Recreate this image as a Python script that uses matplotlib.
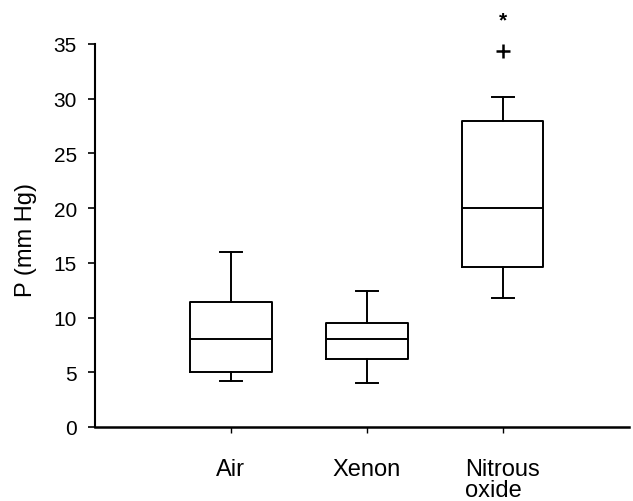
import matplotlib
matplotlib.use("Agg")
import matplotlib.pyplot as plt

plt.rcParams['font.family'] = ['Liberation Sans', 'DejaVu Sans']

categories = ["Air", "Xenon", "Nitrous\noxide"]
whisker_low = [4.2, 4.0, 11.8]
q1 = [5.0, 6.2, 14.65]
median = [8.0, 8.0, 20.0]
q3 = [11.45, 9.5, 28.0]
whisker_high = [16.0, 12.4, 30.2]
outliers = [[], [], [34.4]]
star_value = 37.2
yticks = [0, 5, 10, 15, 20, 25, 30, 35]

fig = plt.figure(figsize=(6.33, 5.02), dpi=100)
ax = fig.add_axes([95/633, 1-428/502, (629-95)/633, (428-45)/502])

stats = []
for i, c in enumerate(categories):
    stats.append(dict(label=c, whislo=whisker_low[i], q1=q1[i], med=median[i],
                      q3=q3[i], whishi=whisker_high[i], fliers=outliers[i]))

positions = [1, 2, 3]
ax.bxp(stats, positions=positions, widths=0.6, capwidths=0.16,
       boxprops=dict(color='black', linewidth=1.4),
       medianprops=dict(color='black', linewidth=1.4),
       whiskerprops=dict(color='black', linewidth=1.4),
       capprops=dict(color='black', linewidth=1.4),
       flierprops=dict(marker='+', markersize=10, markeredgewidth=1.8,
                       markeredgecolor='black'),
       manage_ticks=False)
for art in ax.lines:
    art.set_clip_on(False)

ax.text(3, star_value, "*", ha='center', va='center', fontsize=15,
        fontweight='bold', clip_on=False)

ax.set_xlim(0, 3.93)
ax.set_ylim(0, 35)
ax.set_yticks(yticks)
ax.set_xticks(positions)
ax.set_xticklabels(categories, fontsize=17, va='top', multialignment='left',
                   linespacing=0.95)
ax.tick_params(axis='y', labelsize=15, length=5, width=1.2, pad=8, direction='out')
ax.tick_params(axis='x', length=4, width=1.0, pad=18, direction='out')

ax.spines['top'].set_visible(False)
ax.spines['right'].set_visible(False)
ax.spines['left'].set_linewidth(1.5)
ax.spines['bottom'].set_linewidth(1.8)

ax.set_ylabel("P (mm Hg)", fontsize=17)
ax.yaxis.set_label_coords(-0.108, 0.49)

fig.savefig("out.png", dpi=100)
